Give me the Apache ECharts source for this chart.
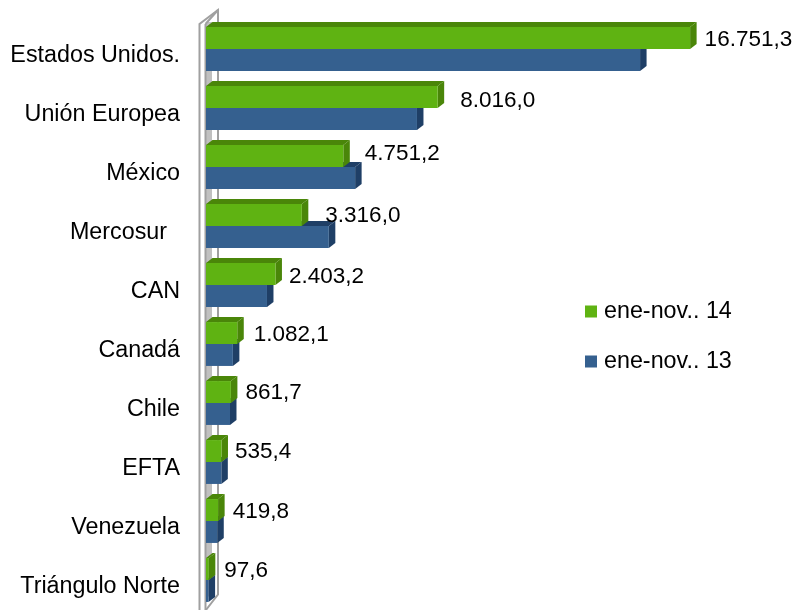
<!DOCTYPE html>
<html>
<head>
<meta charset="utf-8">
<style>
    html, body { margin: 0; padding: 0; background: #fff; }
    #chart { width: 798px; height: 610px; }
</style>
<script src="https://cdn.jsdelivr.net/npm/echarts@6/dist/echarts.min.js"></script>
</head>
<body>
<div id="chart"></div>
<script>
var categories = ['Estados Unidos.', 'Unión Europea', 'México', 'Mercosur  ', 'CAN', 'Canadá', 'Chile', 'EFTA', 'Venezuela', 'Triángulo Norte'];
var values14 = [16751.3, 8016.0, 4751.2, 3316.0, 2403.2, 1082.1, 861.7, 535.4, 419.8, 97.6];
var values13 = [15020, 7300, 5160, 4250, 2110, 930, 830, 530, 390, 90];
var seriesNames = ['ene-nov.. 14', 'ene-nov.. 13'];

// separacion a mano de las etiquetas, [dx, dy] desde el final de la barra
var labelNudge = [[8, -9], [16, -7], [15, -13], [17, -10], [7, -8], [10, -9], [8, -10], [7, -10], [8, -9], [9, -9]];

var depthX = 6.5, depthY = 5;
var fontName = '"Liberation Sans", Arial, sans-serif';

function formatEs(v) {
    var parts = v.toFixed(1).split('.');
    return parts[0].replace(/\B(?=(\d{3})+$)/g, '.') + ',' + parts[1];
}

function makeBar3d(front, dark, isUpper) {
    return function (params, api) {
        var idx = api.value(1);
        var end = api.coord([api.value(0), idx]);
        var start = api.coord([0, idx]);
        var band = api.size([0, 1])[1];
        var h = band * 0.372;
        var y0 = isUpper ? end[1] - h : end[1];
        var x0 = start[0], x1 = end[0], y1 = y0 + h;
        var children = [
            { type: 'polygon', shape: { points: [[x0, y0], [x0 + depthX, y0 - depthY], [x1 + depthX, y0 - depthY], [x1, y0]] }, style: { fill: dark } },
            { type: 'polygon', shape: { points: [[x1, y0], [x1 + depthX, y0 - depthY], [x1 + depthX, y1 - depthY], [x1, y1]] }, style: { fill: dark } },
            { type: 'rect', shape: { x: x0, y: y0, width: x1 - x0, height: h }, style: { fill: front } }
        ];
        if (isUpper) {
            children.push({
                type: 'text',
                z2: 10,
                style: {
                    text: formatEs(api.value(0)),
                    x: x1 + depthX + labelNudge[idx][0],
                    y: end[1] + labelNudge[idx][1],
                    verticalAlign: 'middle',
                    fill: '#000',
                    font: '22.5px ' + fontName
                }
            });
        }
        return { type: 'group', children: children };
    };
}

function renderWall(params) {
    var c = params.coordSys;
    var left = c.x - 6.5, back = c.x + 12, top = c.y - 9.5, bottom = c.y + c.height + 1;
    var line = { stroke: '#a0a0a0', lineWidth: 2, fill: null };
    return {
        type: 'group',
        children: [
            { type: 'rect', shape: { x: c.x, y: top + 12, width: 6, height: bottom - top - 26 }, style: { fill: '#c0c0c0' } },
            { type: 'polyline', shape: { points: [[left, bottom], [left, top + 14], [back, top], [back, bottom - 16], [c.x - 0.5, bottom]] }, style: line },
            { type: 'line', shape: { x1: c.x - 0.5, y1: top + 14, x2: c.x - 0.5, y2: bottom }, style: line },
            { type: 'line', shape: { x1: c.x - 0.5, y1: top + 14, x2: back, y2: top }, style: line }
        ]
    };
}

var myChart = echarts.init(document.getElementById('chart'));
myChart.setOption({
    animation: false,
    backgroundColor: '#fff',
    grid: { left: 206, top: 19.5, width: 578, height: 590 },
    xAxis: { type: 'value', min: 0, max: 20000, show: false },
    yAxis: {
        type: 'category',
        inverse: true,
        data: categories,
        axisLine: { show: false },
        axisTick: { show: false },
        axisLabel: {
            interval: 0,
            margin: 26,
            color: '#000',
            fontSize: 23.3,
            fontFamily: fontName,
            verticalAlign: 'top',
            lineHeight: 13
        }
    },
    legend: {
        left: 580,
        top: 295,
        orient: 'vertical',
        itemWidth: 12,
        itemHeight: 12,
        itemGap: 27,
        icon: 'rect',
        data: seriesNames,
        textStyle: { color: '#000', fontSize: 23.3, fontFamily: fontName, padding: [0, 0, 0, 2] }
    },
    series: [
        {
            type: 'custom',
            name: 'wall',
            silent: true,
            z: 1,
            renderItem: renderWall,
            data: [[0, 0]],
            encode: { x: 0, y: 1 }
        },
        {
            type: 'custom',
            name: seriesNames[1],
            z: 2,
            itemStyle: { color: '#35608f' },
            renderItem: makeBar3d('#35608f', '#1f3f66', false),
            encode: { x: 0, y: 1 },
            data: values13.map(function (v, i) { return [v, i]; })
        },
        {
            type: 'custom',
            name: seriesNames[0],
            z: 3,
            itemStyle: { color: '#5fb312' },
            renderItem: makeBar3d('#5fb312', '#4a8609', true),
            encode: { x: 0, y: 1 },
            data: values14.map(function (v, i) { return [v, i]; })
        }
    ]
});
</script>
</body>
</html>
